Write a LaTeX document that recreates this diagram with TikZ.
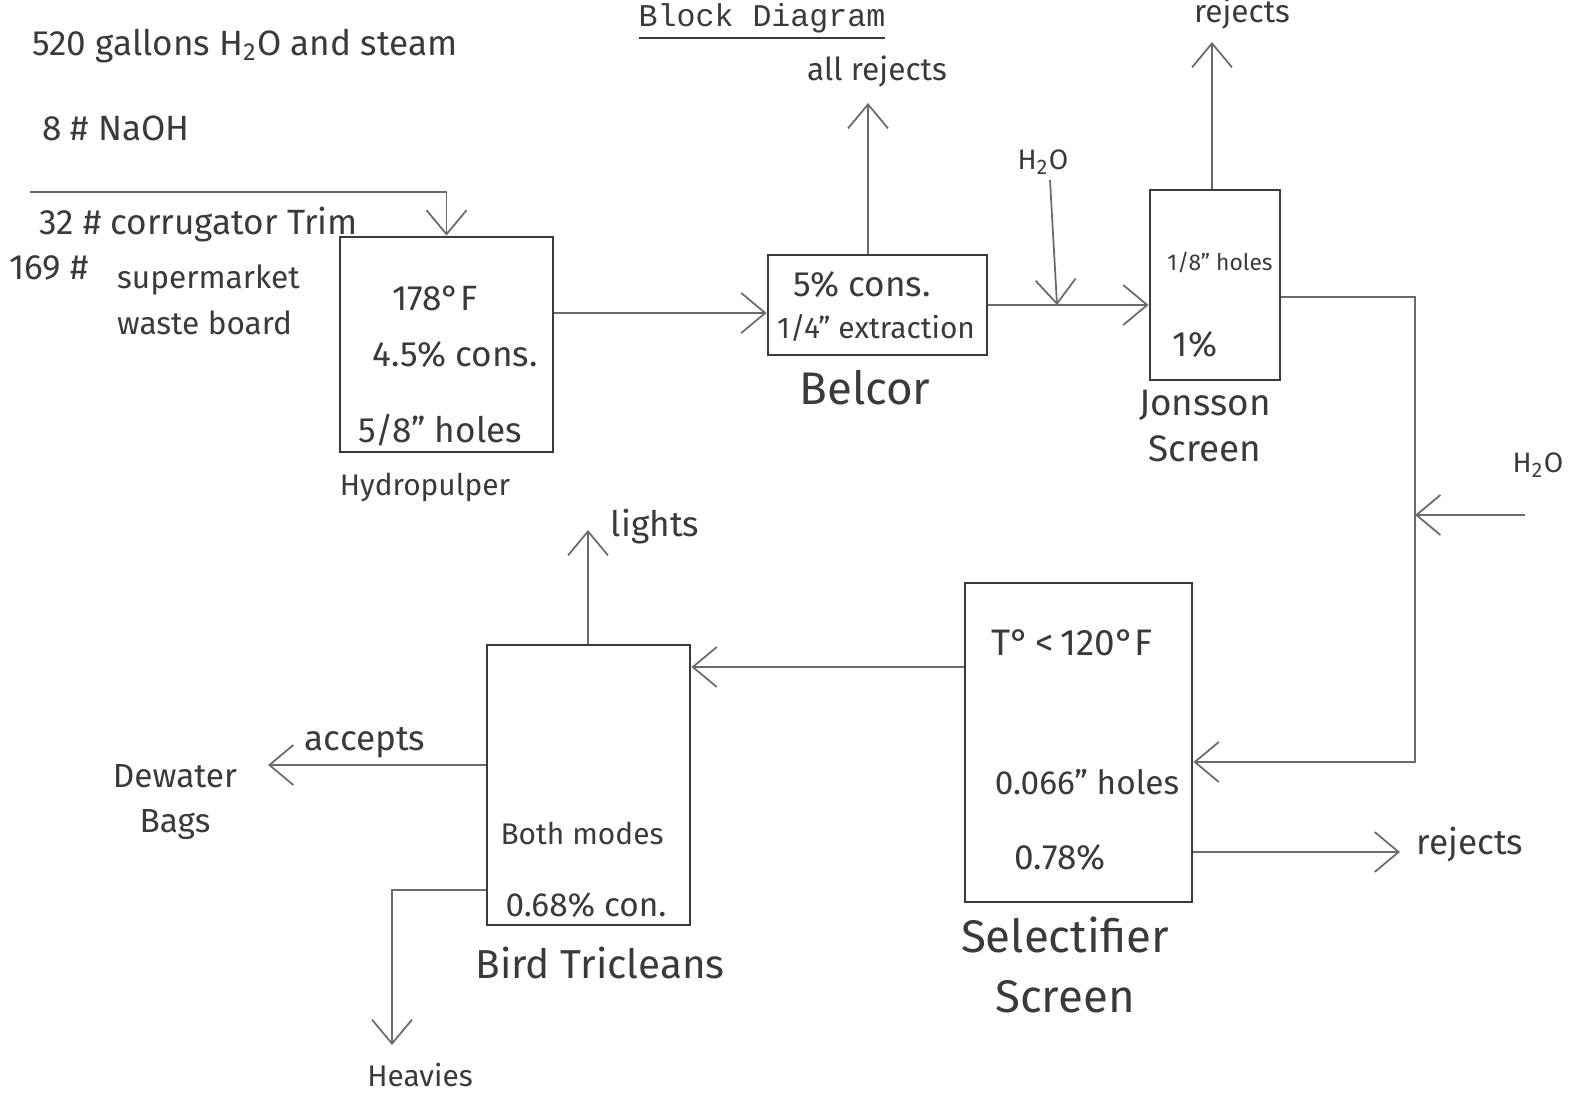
\documentclass[tikz,border=0pt]{standalone}
\usepackage{fontspec}
\setmainfont{Fira Sans}
\setmonofont{Liberation Mono}
\usetikzlibrary{positioning,arrows.meta,calc}
\definecolor{ink}{HTML}{3A3A3A}
\definecolor{pencil}{HTML}{6A6A6A}
\newcommand{\wat}{H\textsubscript{2}O}
\tikzset{
  unit/.style  = {rectangle, draw=ink, line width=0.8pt, inner sep=0pt},
  flow/.style  = {-{Straight Barb[length=2.4mm,width=4mm]}, line width=0.5pt, draw=pencil},
  hand/.style  = {font=\fontsize{#1}{13}\selectfont, text=ink, inner sep=1pt, align=center},
  hand/.default = 10,
}

\begin{document}
\begin{tikzpicture}[x=0.1mm, y=-0.1mm]
  \useasboundingbox (0,0) rectangle (1573,1100);

  % title and feed notes
  \node[font=\ttfamily\fontsize{9}{11}\selectfont, text=ink, anchor=north, inner sep=0pt] (title) at (762,3) {\underline{Block Diagram}};
  \node[hand, anchor=west] (water) at (28,46) {520 gallons \wat{} and steam};
  \node[hand, anchor=west] (naoh) at (38,128) {8 \# NaOH};
  \node[hand, anchor=west] (trim) at (35,225) {32 \# corrugator Trim};
  \node[hand, anchor=west] (lbs) at (5,268) {169 \#};
  \node[hand=9, anchor=west, align=left] (board) at (113,300) {supermarket\\waste board};

  % process units
  \node[unit, minimum width=21.3mm, minimum height=21.5mm] (hp)   at (446.5,344.5) {};
  \node[unit, minimum width=21.9mm, minimum height=10mm]   (bel)  at (877.5,305) {};
  \node[unit, minimum width=13mm,   minimum height=19mm]   (js)   at (1215,285) {};
  \node[unit, minimum width=22.7mm, minimum height=31.9mm] (sel)  at (1078.5,742.5) {};
  \node[unit, minimum width=20.3mm, minimum height=28mm]   (bird) at (588.5,785) {};

  % unit contents
  \node[hand] at (435,298) {178°F};
  \node[hand] at (455,355) {4.5\% cons.};
  \node[hand] at (440,430) {5/8" holes};
  \node[hand=8.5] (hplbl) at (425,487) {Hydropulper};

  \node[hand] at (862,285) {5\% cons.};
  \node[hand=8.5] at (876,328) {1/4" extraction};
  \node[hand=13] (bellbl) at (865,388) {Belcor};

  \node[hand=6.5] at (1220,262) {1/8" holes};
  \node[hand] at (1195,345) {1\%};
  \node[hand=10.5] (jslbl) at (1205,426) {Jonsson\\Screen};

  \node[hand=10.5] at (1072,643) {T°\,<\,120°F};
  \node[hand=9.5] at (1087,782) {0.066" holes};
  \node[hand] at (1060,858) {0.78\%};
  \node[hand=13] (sellbl) at (1065,935) {Selectifier};
  \node[hand=13] (sellbl2) at (1065,997) {Screen};

  \node[hand=8.5] at (582,833) {Both modes};
  \node[hand=9.5] at (586,905) {0.68\% con.};
  \node[hand=11.5] (birdlbl) at (600,963) {Bird Tricleans};

  % free ends
  \coordinate (feed)   at (30,192);
  \coordinate (allrej) at (868,103);
  \coordinate (w1)     at (1050,180);
  \coordinate (mix)    at (1057,305);
  \coordinate (jrej)   at (1212,42);
  \coordinate (bend)   at (1415,297);
  \coordinate (w2)     at (1525,515);
  \coordinate (srej)   at (1400,852);
  \coordinate (lt)     at (588,530);
  \coordinate (acc)    at (268,765);
  \coordinate (hv)     at (392,1045);

  % stream labels
  \node[hand=9] (allrejlbl) at (877,72) {all rejects};
  \node[hand=8] (w1lbl) at (1043,162) {\wat};
  \node[hand=9] (jrejlbl) at (1242,14) {rejects};
  \node[hand=8] (w2lbl) at (1538,465) {\wat};
  \node[hand] (srejlbl) at (1470,845) {rejects};
  \node[hand] (ltlbl) at (655,527) {lights};
  \node[hand] (acclbl) at (365,743) {accepts};
  \node[hand=9.5] (bags) at (175,802) {Dewater\\Bags};
  \node[hand=8.5] (hvlbl) at (420,1075) {Heavies};

  % streams
  \draw[flow] (feed) -| (hp.north);
  \draw[flow] (hp.east |- 0,313) -- (bel.west |- 0,313);
  \draw[flow] (bel.north -| allrej) -- (allrej);
  \draw[flow] (bel.east |- mix) -- (js.west |- mix);
  \draw[flow] (w1) -- (mix);
  \draw[flow] (js.north -| jrej) -- (jrej);
  \draw[flow] (js.east |- bend) -- (bend) |- (sel.east |- 0,762);
  \draw[flow] (w2) -- (bend |- w2);
  \draw[flow] (sel.east |- srej) -- (srej);
  \draw[flow] (sel.west |- 0,667) -- (bird.east |- 0,667);
  \draw[flow] (bird.north -| lt) -- (lt);
  \draw[flow] (bird.west |- acc) -- (acc);
  \draw[flow] (bird.west |- 0,890) -| (hv);
\end{tikzpicture}
\end{document}
